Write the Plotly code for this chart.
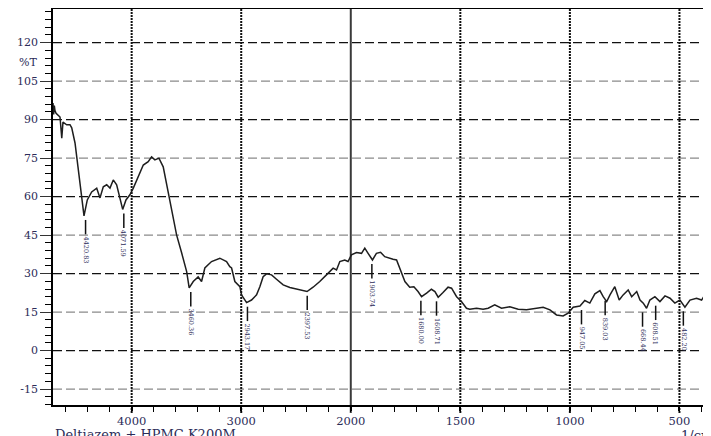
import plotly.graph_objects as go

# ---- data (wavenumber in 1/cm, transmittance in %T) ----
wavenumber = [4718, 4712, 4706, 4700, 4690, 4672, 4654, 4638, 4627, 4593, 4563, 4547, 4517, 4490,
              4462, 4435, 4405, 4365, 4319, 4289, 4259, 4228, 4198, 4168, 4137, 4113, 4082,
              4052, 4016, 3985, 3940, 3894, 3849, 3818, 3788, 3751, 3712, 3666, 3621, 3590,
              3544, 3498, 3475, 3438, 3393, 3362, 3332, 3271, 3195, 3134, 3104, 3088, 3058,
              3028, 3012, 2997, 2951, 2906, 2860, 2830, 2800, 2769, 2723, 2678, 2617, 2556,
              2495, 2450, 2399, 2344, 2283, 2222, 2161, 2130, 2100, 2055, 2025, 1997, 1974,
              1951, 1936, 1921, 1901, 1883, 1864, 1845, 1825, 1807, 1791, 1776, 1753, 1731,
              1712, 1693, 1677, 1654, 1632, 1616, 1601, 1579, 1556, 1540, 1517, 1495, 1472,
              1457, 1426, 1396, 1373, 1343, 1312, 1274, 1236, 1198, 1160, 1122, 1091, 1061,
              1031, 1008, 985, 954, 932, 909, 886, 863, 848, 832, 817, 795, 775, 757, 734,
              718, 695, 680, 665, 650, 635, 612, 589, 566, 543, 521, 498, 475, 452, 422,
              399, 384, 373, 369, 356]
transmittance = [96.5, 92.0, 95.5, 93.5, 92.5, 91.8, 91.0, 82.8, 89.0, 88.0, 88.0, 86.8, 80.9, 71.6,
                 61.4, 52.5, 58.7, 61.8, 63.3, 59.5, 63.8, 64.6, 63.3, 66.5, 64.6, 59.9, 55.0,
                 58.7, 60.7, 63.3, 67.7, 72.3, 73.6, 75.5, 74.3, 75.0, 71.6, 61.4, 52.1, 45.1,
                 38.1, 30.8, 24.4, 26.9, 28.7, 26.9, 32.2, 34.7, 36.0, 34.7, 32.7, 32.2, 26.9,
                 25.6, 24.9, 21.7, 18.7, 19.7, 21.7, 24.9, 28.8, 29.9, 29.5, 27.8, 25.6, 24.6,
                 23.9, 23.4, 23.0, 24.7, 26.9, 29.5, 32.1, 31.4, 34.7, 35.3, 34.7, 37.3, 38.2,
                 37.9, 39.9, 37.9, 35.3, 37.9, 38.3, 36.6, 36.0, 35.6, 35.3, 32.1, 26.9, 24.7,
                 24.9, 23.0, 21.0, 22.4, 23.9, 23.0, 20.8, 22.6, 24.7, 24.3, 21.0, 19.1, 16.5,
                 16.1, 16.5, 16.1, 16.5, 17.8, 16.5, 17.1, 16.1, 15.9, 16.5, 16.9, 15.9, 13.9,
                 13.5, 14.6, 16.9, 17.4, 19.5, 18.5, 22.1, 23.4, 21.0, 19.1, 21.7, 24.9, 19.7,
                 21.7, 23.6, 21.0, 23.0, 19.7, 18.5, 16.5, 19.7, 21.0, 19.1, 21.3, 20.4, 18.5,
                 19.7, 16.9, 19.7, 20.4, 19.7, 21.7, 21.0, 30.1, 30.8]

peak_labels = ["4420.83", "4071.59", "3460.36", "2943.17", "2397.53", "1903.74", "1680.00",
               "1608.71", "947.05", "839.03", "668.44", "608.51", "482.20"]
peak_wn = [4420.83, 4071.59, 3460.36, 2943.17, 2397.53, 1903.74, 1680.00,
           1608.71, 947.05, 839.03, 668.44, 608.51, 482.20]
peak_T = [52.5, 55.0, 24.4, 18.7, 23.0, 35.3, 21.0, 20.8, 17.4, 21.0, 16.5, 19.1, 16.9]

x_ticks = [4000, 3000, 2000, 1500, 1000, 500]
y_ticks = [-15, 0, 15, 30, 45, 60, 75, 90, 105, 120]
x_range_wn = [4718, 356]
y_range = [-21.2, 133.1]


# Shimadzu-style split scale: above 2000 1/cm the axis is compressed by a factor of 2
def to_axis(w):
    return w if w <= 2000 else 2000 + (w - 2000) / 2.0


FONT = "DejaVu Serif"
TXT = "#2c2c58"

fig = go.Figure()
fig.add_trace(go.Scatter(
    x=[to_axis(w) for w in wavenumber], y=transmittance,
    mode="lines", line=dict(color="#1e1e1e", width=1.5), hoverinfo="skip", showlegend=False))

shapes = []
# horizontal dashed grid, alternating dark / grey
for v in y_ticks:
    dark = (v % 30 == 0)
    shapes.append(dict(type="line", xref="paper", x0=0, x1=1, yref="y", y0=v, y1=v,
                       line=dict(color="#111111" if dark else "#8a8a8a", width=1.2,
                                 dash="9px,4px"), layer="below"))
# vertical grid: dotted, solid at 2000 (extends a little below the axis as the major tick)
for w in x_ticks:
    solid = (w == 2000)
    shapes.append(dict(type="line", xref="x", x0=to_axis(w), x1=to_axis(w), yref="paper",
                       y0=-0.02, y1=1,
                       line=dict(color="#3a3a3a" if solid else "#111111", width=2,
                                 dash="solid" if solid else "2px,1px"), layer="below"))
# peak marker lines and labels
annotations = []
for lab, w, t in zip(peak_labels, peak_wn, peak_T):
    shapes.append(dict(type="line", xref="x", x0=to_axis(w), x1=to_axis(w), yref="y",
                       y0=t - 1.6, y1=t - 7.2, line=dict(color="#111111", width=1.5)))
    annotations.append(dict(x=to_axis(w), y=t - 7.3, xref="x", yref="y", text=lab,
                            showarrow=False, textangle=90, xanchor="center", yanchor="top",
                            font=dict(family=FONT, size=6.5, color=TXT)))

annotations.append(dict(x=0, y=-0.075, xref="paper", yref="paper", text="Deltiazem + HPMC K200M",
                        showarrow=False, xanchor="left", yanchor="middle",
                        font=dict(family=FONT, size=13, color=TXT)))
annotations.append(dict(x=0.951, y=-0.077, xref="paper", yref="paper", text="1/cm",
                        showarrow=False, xanchor="left", yanchor="middle",
                        font=dict(family=FONT, size=13, color=TXT)))
annotations.append(dict(x=-0.022, y=112.2, xref="paper", yref="y", text="%T",
                        showarrow=False, xanchor="right", yanchor="middle",
                        font=dict(family=FONT, size=11, color=TXT)))

# the page body has an 8px default margin, so the figure is sized to end at the window edge
fig.update_layout(
    width=703, height=428,
    margin=dict(l=45, r=0, t=1, b=31),
    paper_bgcolor="white", plot_bgcolor="white",
    shapes=shapes, annotations=annotations,
    xaxis=dict(range=[to_axis(x_range_wn[0]), to_axis(x_range_wn[1])],
               tickmode="array", tickvals=[to_axis(w) for w in x_ticks],
               ticktext=[str(w) for w in x_ticks],
               ticks="outside", ticklen=4, tickwidth=1.5, tickcolor="black",
               showgrid=False, zeroline=False, showline=True, linecolor="black",
               linewidth=1.5, mirror=True, ticklabelstandoff=0,
               tickfont=dict(family=FONT, size=11.5, color=TXT),
               minor=dict(tickmode="linear", tick0=0, dtick=100, ticks="outside",
                          ticklen=5, tickwidth=1.2, tickcolor="black", showgrid=False)),
    yaxis=dict(range=y_range, tickmode="array", tickvals=y_ticks,
               ticktext=[str(v) for v in y_ticks],
               ticks="outside", ticklen=11, tickwidth=1.2, tickcolor="#333333",
               showgrid=False, zeroline=False, showline=True, linecolor="black",
               linewidth=1.5,
               tickfont=dict(family=FONT, size=11, color=TXT),
               minor=dict(tickmode="linear", tick0=0, dtick=3, ticks="outside",
                          ticklen=6, tickwidth=1.2, tickcolor="black", showgrid=False)),
)

fig.write_html("out.html")
